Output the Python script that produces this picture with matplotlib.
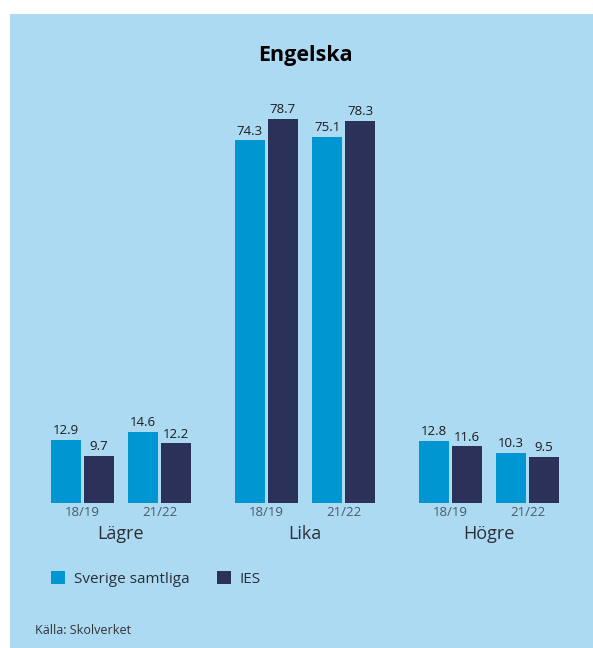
import numpy as np
import matplotlib
matplotlib.use("Agg")
import matplotlib.pyplot as plt
from matplotlib.patches import Patch

# data
categories = ["Lägre", "Lika", "Högre"]
periods = ["18/19", "21/22"]
sverige = [[12.9, 14.6], [74.3, 75.1], [12.8, 10.3]]
ies = [[9.7, 12.2], [78.7, 78.3], [11.6, 9.5]]
series_names = ["Sverige samtliga", "IES"]

bg = "#acdaf3"
c_sverige = "#0096d1"
c_ies = "#2b3158"
txt = "#1b1b1b"
grey = "#4b5866"

plt.rcParams["font.family"] = ["Open Sans", "DejaVu Sans"]

fig = plt.figure(figsize=(5.93, 6.48), dpi=100)
fig.patch.set_facecolor("white")
# light blue panel
fig.add_artist(plt.Rectangle((10 / 593, 0), 1, 1 - 14 / 648,
                             transform=fig.transFigure, facecolor=bg,
                             edgecolor="none", zorder=0))

ax = fig.add_axes([10 / 593, 145 / 648, 583 / 593, 450 / 648])
ax.set_facecolor("none")
for s in ax.spines.values():
    s.set_visible(False)
ax.set_xticks([])
ax.set_yticks([])

pair_off = 0.21
bar_off = 0.09
bw = 0.163

ax.set_xlim(-0.603, 2.565)
ax.set_ylim(0, 450 / 4.88)

for i, cat in enumerate(categories):
    for j, per in enumerate(periods):
        xc = i + (j - 0.5) * 2 * pair_off
        for k, (vals, col) in enumerate([(sverige, c_sverige), (ies, c_ies)]):
            x = xc + (k - 0.5) * 2 * bar_off
            v = vals[i][j]
            ax.bar(x, v, width=bw, color=col, zorder=2)
            ax.annotate(f"{v:.1f}", (x, v), xytext=(0, 2),
                        textcoords="offset points", ha="center", va="bottom",
                        fontsize=9.5, color=txt)
        ax.annotate(per, (xc, 0), xytext=(0, -6.5), textcoords="offset points",
                    ha="center", va="center", fontsize=9.5, color=grey,
                    annotation_clip=False)
    ax.annotate(cat, (i, 0), xytext=(0, -22.5), textcoords="offset points",
                ha="center", va="center", fontsize=13, color="#2a2f36",
                annotation_clip=False)

fig.text(305 / 593, 1 - 55 / 648, "Engelska", ha="center", va="center",
         fontsize=15.5, fontweight="bold", color="black")

handles = [Patch(facecolor=c_sverige, edgecolor="none"),
           Patch(facecolor=c_ies, edgecolor="none")]
fig.legend(handles, series_names, loc="center left",
           bbox_to_anchor=(37 / 593, 69 / 648), ncol=2, frameon=False,
           fontsize=11, handlelength=0.9, handleheight=0.9,
           handletextpad=0.6, columnspacing=1.8, labelcolor="#2a2f36")

fig.text(35 / 593, 1 - 630 / 648, "Källa: Skolverket", ha="left",
         va="center", fontsize=9, color="#333333")

fig.savefig("out.png", dpi=100, facecolor=fig.get_facecolor())
